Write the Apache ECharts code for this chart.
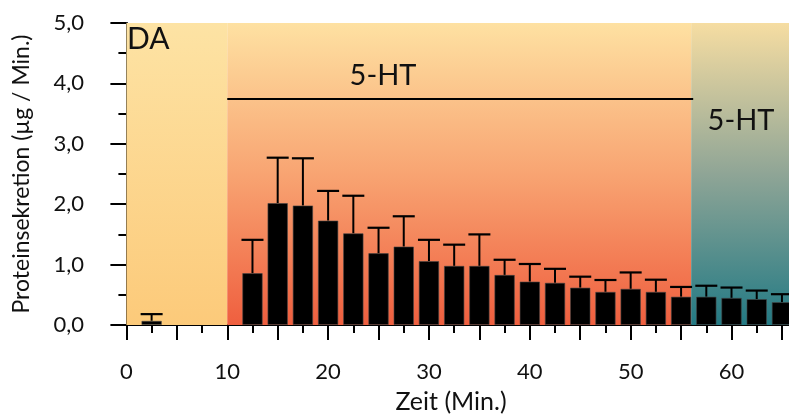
<!DOCTYPE html>
<html>
<head>
<meta charset="utf-8">
<script src="https://cdn.jsdelivr.net/npm/echarts@6/dist/echarts.min.js"></script>
<style>html,body{margin:0;padding:0;background:#fff}#c{width:789px;height:417px}</style>
</head>
<body>
<div id="c"></div>
<script>
// ---- data ----
var times = [2.5, 12.5, 15, 17.5, 20, 22.5, 25, 27.5, 30, 32.5, 35, 37.5, 40, 42.5, 45, 47.5, 50, 52.5, 55, 57.5, 60, 62.5, 65];
var means = [0.07, 0.86, 2.02, 1.98, 1.73, 1.52, 1.19, 1.30, 1.06, 0.98, 0.98, 0.83, 0.72, 0.70, 0.62, 0.55, 0.60, 0.55, 0.47, 0.47, 0.45, 0.43, 0.38];
var upper = [0.18, 1.41, 2.77, 2.76, 2.22, 2.14, 1.61, 1.80, 1.41, 1.33, 1.50, 1.08, 1.01, 0.93, 0.80, 0.745, 0.87, 0.75, 0.63, 0.65, 0.62, 0.57, 0.51];
var xLabelValues = [0, 10, 20, 30, 40, 50, 60];
var xMajorTicks = [0, 5, 10, 15, 20, 25, 30, 35, 40, 45, 50, 55, 60, 65];
var xMinorTicks = [2.5, 7.5, 12.5, 17.5, 22.5, 27.5, 32.5, 37.5, 42.5, 47.5, 52.5, 57.5, 62.5];
var regionDA = [0, 10];
var region5HT = [10, 56];
var region5HT2 = [56, 65.7];
var lineX = [10, 56.2];
var lineY = 3.74;
var xMin = -1.33, xMax = 65.7;

var FONT = 'Lato, "DejaVu Sans", sans-serif';
function grad(top, bottom) {
  return new echarts.graphic.LinearGradient(0, 0, 0, 1, [{offset: 0, color: top}, {offset: 1, color: bottom}]);
}
function gradMid(top, mid, bottom) {
  return new echarts.graphic.LinearGradient(0, 0, 0, 1, [{offset: 0, color: top}, {offset: 0.5, color: mid}, {offset: 1, color: bottom}]);
}

var chart = echarts.init(document.getElementById('c'), null, {renderer: 'canvas'});
var barData = times.map(function (t, i) { return [t, means[i]]; });
var errData = times.map(function (t, i) { return [t, means[i], upper[i]]; });

chart.setOption({
  animation: false,
  grid: {left: 113, right: 0, top: 23, bottom: 92, containLabel: false, outerBoundsMode: 'none'},
  xAxis: [{
    type: 'value', min: xMin, max: xMax,
    name: 'Zeit (Min.)', nameLocation: 'middle', nameGap: 64,
    nameTextStyle: {fontFamily: FONT, fontSize: 25, color: '#111'},
    axisLine: {show: true, onZero: false, lineStyle: {color: '#000', width: 2}},
    axisTick: {show: true, length: 15, lineStyle: {color: '#000', width: 2}, customValues: xMajorTicks},
    axisLabel: {show: true, margin: 36, fontFamily: FONT, fontSize: 22, color: '#111', customValues: xLabelValues},
    splitLine: {show: false}
  }, {
    type: 'value', min: xMin, max: xMax, position: 'bottom',
    axisLine: {show: false},
    axisTick: {show: true, length: 8, lineStyle: {color: '#000', width: 2}, customValues: xMinorTicks},
    axisLabel: {show: false},
    splitLine: {show: false}
  }],
  yAxis: {
    type: 'value', min: 0, max: 5, interval: 1,
    name: 'Proteinsekretion (µg / Min.)', nameLocation: 'middle', nameGap: 80,
    nameTextStyle: {fontFamily: FONT, fontSize: 23, color: '#111'},
    axisLine: {show: true, lineStyle: {color: '#000', width: 2}},
    axisTick: {show: true, length: 16, lineStyle: {color: '#000', width: 2}},
    minorTick: {show: true, splitNumber: 2, length: 8, lineStyle: {color: '#000', width: 2}},
    axisLabel: {margin: 29, fontFamily: FONT, fontSize: 22, color: '#111',
      formatter: function (v) { return v.toFixed(1).replace('.', ','); }},
    splitLine: {show: false}
  },
  series: [{
    type: 'bar', xAxisIndex: 0, data: barData, barWidth: 20.5, z: 3,
    itemStyle: {color: '#000', borderColor: 'rgba(70,70,70,0.6)', borderWidth: 1},
    markArea: {
      silent: true,
      data: [
        [{xAxis: regionDA[0], yAxis: 0, itemStyle: {color: grad('#fde3a4', '#fcca7a')}}, {xAxis: regionDA[1], yAxis: 5}],
        [{xAxis: region5HT[0], yAxis: 0, itemStyle: {color: gradMid('#fee1a2', '#f8a472', '#ef5f3f')}}, {xAxis: region5HT[1], yAxis: 5}],
        [{xAxis: region5HT2[0], yAxis: 0, itemStyle: {color: gradMid('#f6dda2', '#8fa596', '#237a84')}}, {xAxis: region5HT2[1], yAxis: 5}]
      ]
    }
  }, {
    type: 'line', xAxisIndex: 0, data: [[lineX[0], lineY], [lineX[1], lineY]],
    symbol: 'none', lineStyle: {color: '#000', width: 2}, z: 4
  }, {
    type: 'custom', xAxisIndex: 0, data: errData, z: 5,
    renderItem: function (params, api) {
      var x = api.value(0), m = api.value(1), u = api.value(2);
      var p1 = api.coord([x, m]), p2 = api.coord([x, u]);
      var hw = 11;
      return {
        type: 'group',
        children: [
          {type: 'line', shape: {x1: p1[0], y1: p1[1], x2: p2[0], y2: p2[1]}, style: {stroke: '#000', lineWidth: 2}},
          {type: 'line', shape: {x1: p2[0] - hw, y1: p2[1], x2: p2[0] + hw, y2: p2[1]}, style: {stroke: '#000', lineWidth: 2.2}}
        ]
      };
    }
  }],
  graphic: [
    {type: 'text', left: 127, top: 24, z: 10, style: {text: 'DA', fontFamily: FONT, fontSize: 30, fill: '#111'}},
    {type: 'text', x: 383, y: 76, z: 10, style: {text: '5-HT', fontFamily: FONT, fontSize: 29, fill: '#111', align: 'center', verticalAlign: 'middle'}},
    {type: 'text', x: 741, y: 121, z: 10, style: {text: '5-HT', fontFamily: FONT, fontSize: 29, fill: '#111', align: 'center', verticalAlign: 'middle'}}
  ]
});
</script>
</body>
</html>
